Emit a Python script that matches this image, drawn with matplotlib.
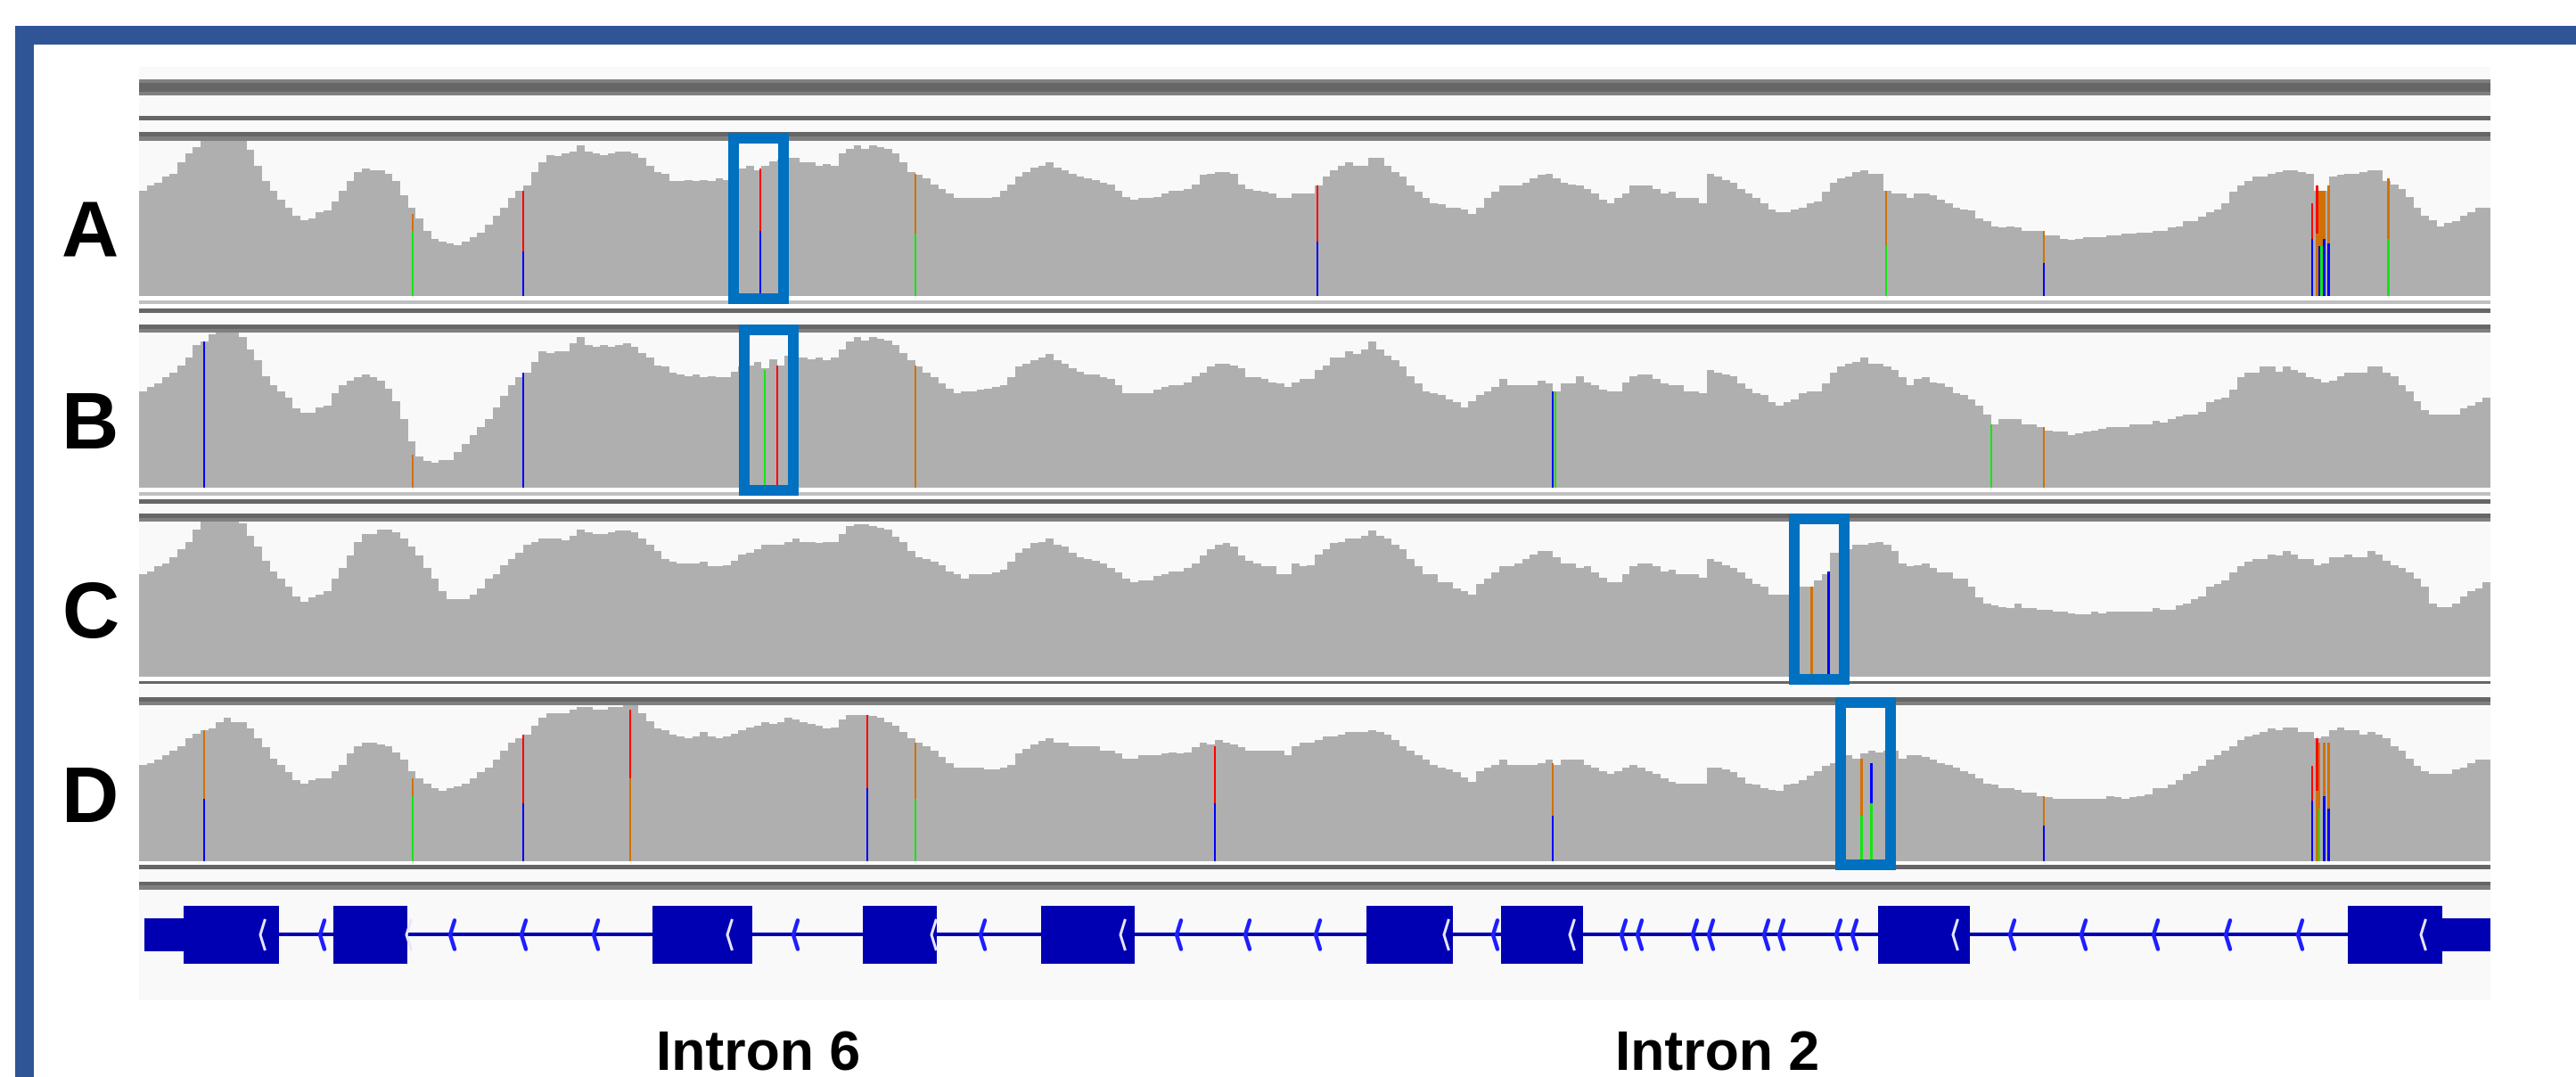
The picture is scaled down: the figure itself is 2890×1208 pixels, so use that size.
import numpy as np
import matplotlib
matplotlib.use("Agg")
import matplotlib.pyplot as plt
from matplotlib.patches import Rectangle
from matplotlib.transforms import blended_transform_factory

W, H, DPI = 2890, 1208, 100
LOCUS_KB = 26.38   # width of the window shown, kb

# coverage per sample, % of the track data range, left to right
cov_a = [68, 71, 73, 77, 79, 86, 92, 96, 100, 100,
         100, 100, 100, 100, 94, 84, 74, 68, 62, 57,
         52, 49, 50, 54, 55, 61, 68, 74, 80, 82,
         81, 81, 79, 74, 65, 57, 50, 42, 37, 35,
         34, 33, 35, 38, 41, 46, 52, 57, 63, 68,
         71, 80, 86, 91, 90, 92, 93, 97, 93, 92,
         91, 92, 93, 93, 92, 89, 84, 80, 79, 74,
         74, 75, 74, 75, 74, 76, 75, 76, 82, 84,
         81, 84, 87, 88, 89, 89, 86, 86, 84, 85,
         84, 92, 95, 97, 95, 97, 96, 95, 92, 86,
         80, 78, 76, 72, 69, 66, 63, 63, 63, 63,
         63, 64, 68, 72, 77, 80, 83, 84, 86, 83,
         81, 79, 77, 76, 75, 73, 72, 68, 64, 62,
         63, 63, 64, 66, 68, 68, 69, 72, 78, 79,
         80, 80, 79, 72, 69, 68, 67, 66, 63,
         63, 66, 66, 66, 71, 77, 81, 84, 86, 84,
         84, 89, 89, 84, 80, 77, 71, 67, 63, 60,
         59, 57, 57, 56, 53, 57, 63, 67, 71, 71,
         71, 73, 76, 78, 79, 76, 73, 72, 71, 69,
         66, 62, 60, 63, 66, 71, 71, 71, 69, 66,
         67, 63, 63, 63, 60, 79, 77, 75, 73, 69,
         66, 63, 60, 56, 54, 54, 56, 57, 60, 61,
         67, 73, 76, 77, 80, 81, 79, 79, 68, 66,
         66, 63, 66, 66, 65, 62, 60, 57, 56, 55,
         50, 48, 45, 44, 45, 44, 42, 42, 42, 39,
         39, 37, 36, 37, 38, 38, 38, 39, 39, 40,
         40, 41, 41, 42, 42, 44, 45, 48, 48, 51,
         54, 56, 60, 67, 71, 74, 77, 77, 79, 80,
         81, 81, 80, 79, 68, 68, 77, 78, 79, 79,
         80, 81, 81, 74, 72, 69, 64, 57, 52, 49,
         45, 47, 48, 52, 54, 57, 57]

cov_b = [62, 65, 67, 71, 74, 79, 84, 92, 94, 99,
         100, 100, 100, 97, 89, 82, 72, 66, 62, 58,
         51, 48, 48, 52, 53, 61, 66, 69, 71, 73,
         71, 69, 64, 56, 44, 30, 20, 17, 16, 18,
         18, 23, 28, 34, 39, 44, 52, 59, 66, 71,
         74, 81, 88, 87, 88, 88, 93, 97, 92, 91,
         92, 91, 92, 93, 91, 87, 84, 79, 78, 74,
         73, 72, 73, 71, 72, 71, 71, 75, 78, 79,
         81, 77, 83, 79, 85, 84, 84, 83, 84, 82,
         84, 89, 94, 97, 95, 97, 96, 95, 92, 87,
         82, 78, 74, 71, 67, 64, 61, 62, 62, 63,
         64, 65, 66, 71, 78, 80, 82, 84, 86, 82,
         80, 77, 75, 73, 73, 71, 70, 66, 61, 61,
         61, 61, 63, 65, 66, 66, 68, 72, 74, 78,
         80, 80, 79, 77, 71, 71, 70, 68, 67,
         65, 68, 70, 70, 76, 79, 84, 84, 88, 86,
         89, 94, 89, 85, 82, 78, 72, 67, 62, 61,
         60, 57, 55, 52, 56, 60, 62, 65, 70, 66,
         66, 66, 66, 69, 67, 62, 67, 67, 72, 68,
         66, 63, 62, 62, 68, 72, 73, 73, 70, 67,
         66, 66, 62, 62, 61, 76, 74, 73, 72, 67,
         64, 61, 60, 55, 53, 55, 57, 61, 62, 62,
         67, 74, 78, 80, 81, 84, 80, 80, 78, 76,
         71, 66, 70, 71, 68, 67, 65, 61, 60, 57,
         53, 47, 41, 44, 44, 44, 41, 41, 39, 37,
         36, 36, 34, 35, 36, 37, 38, 39, 39, 39,
         41, 41, 41, 43, 42, 44, 46, 47, 47, 49,
         55, 57, 58, 63, 71, 74, 74, 78, 78, 75,
         78, 76, 74, 71, 70, 68, 69, 72, 74, 74,
         74, 78, 78, 74, 72, 66, 62, 56, 50, 47,
         47, 47, 47, 51, 53, 55, 58]

cov_c = [66, 68, 71, 73, 77, 82, 87, 95, 100, 100,
         100, 100, 100, 99, 91, 84, 75, 68, 63, 58,
         52, 48, 51, 53, 55, 63, 70, 78, 87, 92,
         92, 95, 95, 93, 89, 84, 78, 70, 63, 55,
         50, 50, 50, 53, 57, 63, 66, 72, 76, 80,
         85, 87, 89, 89, 89, 88, 91, 95, 93, 92,
         92, 93, 94, 94, 93, 89, 85, 81, 76, 74,
         73, 73, 73, 74, 71, 71, 72, 75, 79, 80,
         82, 85, 85, 85, 87, 89, 87, 87, 86, 87,
         87, 92, 97, 98, 98, 97, 96, 95, 90, 87,
         81, 77, 76, 74, 72, 68, 66, 63, 66, 66,
         66, 67, 69, 74, 80, 83, 86, 87, 89, 85,
         84, 80, 77, 76, 75, 73, 70, 67, 63, 61,
         62, 62, 65, 66, 68, 68, 70, 73, 78, 82,
         85, 86, 84, 78, 75, 73, 71, 71, 66,
         66, 73, 71, 72, 79, 82, 86, 87, 89, 89,
         91, 94, 91, 89, 85, 82, 76, 71, 66, 66,
         61, 61, 57, 55, 53, 60, 63, 67, 71, 71,
         73, 76, 79, 81, 81, 77, 73, 73, 70, 71,
         67, 64, 61, 61, 66, 71, 73, 73, 71, 68,
         69, 66, 66, 66, 64, 76, 74, 72, 70, 67,
         63, 60, 58, 53, 53, 53, 58, 58, 58, 62,
         66, 80, 80, 82, 85, 85, 86, 87, 85, 81,
         73, 71, 72, 73, 70, 67, 67, 63, 63, 58,
         51, 47, 46, 45, 44, 47, 44, 44, 43, 43,
         42, 42, 41, 40, 40, 42, 41, 42, 42, 42,
         42, 42, 42, 44, 43, 43, 46, 47, 50, 52,
         58, 60, 62, 67, 71, 74, 76, 76, 79, 78,
         81, 79, 76, 76, 72, 73, 77, 77, 79, 77,
         77, 81, 79, 75, 72, 70, 67, 63, 58, 47,
         45, 45, 47, 52, 55, 57, 61]

cov_d = [62, 63, 65, 68, 71, 74, 79, 82, 84, 85,
         89, 92, 89, 89, 85, 79, 73, 66, 62, 57,
         52, 50, 52, 53, 53, 58, 62, 69, 74, 76,
         76, 75, 74, 70, 65, 58, 53, 50, 47, 45,
         47, 48, 50, 53, 57, 60, 65, 71, 76, 79,
         81, 87, 92, 95, 95, 95, 97, 99, 99, 97,
         97, 99, 99, 100, 100, 95, 90, 85, 84, 81,
         80, 79, 80, 83, 80, 79, 80, 82, 84, 86,
         87, 89, 88, 89, 92, 91, 89, 88, 87, 85,
         86, 91, 94, 94, 94, 93, 92, 89, 87, 83,
         79, 76, 74, 71, 67, 63, 60, 60, 60, 60,
         59, 59, 60, 62, 69, 72, 75, 77, 79, 76,
         76, 74, 74, 74, 74, 71, 71, 69, 66, 66,
         68, 68, 68, 69, 70, 69, 70, 73, 76, 75,
         78, 76, 75, 73, 71, 71, 71, 71, 71,
         68, 74, 76, 76, 78, 80, 80, 81, 83, 83,
         83, 84, 83, 81, 78, 74, 71, 68, 65, 62,
         60, 59, 57, 54, 51, 58, 60, 62, 65, 62,
         62, 62, 62, 63, 65, 62, 65, 65, 65, 62,
         60, 58, 56, 58, 60, 62, 60, 58, 56, 53,
         51, 50, 50, 50, 50, 60, 60, 59, 57, 54,
         50, 49, 47, 46, 45, 49, 50, 52, 55, 58,
         61, 63, 65, 68, 66, 69, 71, 70, 71, 71,
         66, 68, 68, 67, 65, 63, 62, 60, 58, 56,
         53, 50, 49, 47, 47, 46, 44, 44, 42, 41,
         40, 40, 40, 40, 40, 40, 40, 42, 41, 40,
         41, 42, 43, 47, 47, 49, 52, 56, 58, 61,
         65, 68, 71, 74, 78, 80, 81, 83, 85, 84,
         86, 86, 83, 83, 79, 80, 84, 86, 84, 84,
         81, 83, 81, 79, 74, 71, 66, 61, 58, 56,
         56, 56, 59, 60, 63, 65, 65]

# mismatches: (position kb, lower base, lower depth, upper base, total depth)
var_a = [(3.07, "A", 42, "G", 53), (4.31, "C", 29, "T", 68),
         (6.97, "C", 42, "T", 82), (8.71, "A", 40, "G", 79),
         (13.22, "C", 35, "T", 71), (19.60, "A", 32, "G", 68),
         (21.37, "C", 21, "G", 42), (24.38, "C", 37, "T", 60),
         (24.435, "G", 40, "T", 71), (24.46, "C", 32, "G", 68),
         (24.485, "A", 32, "G", 68), (24.515, "C", 37, "G", 68),
         (24.565, "C", 34, "G", 71), (25.235, "A", 37, "G", 76)]
var_b = [(0.73, "C", 94, None, 94), (3.07, "G", 21, None, 21),
         (4.31, "C", 74, None, 74), (7.02, "A", 76, None, 76),
         (7.16, "T", 79, None, 79), (8.71, "G", 79, None, 79),
         (15.86, "C", 62, None, 62), (15.89, "A", 62, None, 62),
         (20.78, "A", 41, None, 41), (21.37, "G", 39, None, 39)]
var_c = [(18.765, "G", 58, None, 58), (18.955, "C", 68, None, 68)]
var_d = [(0.73, "C", 40, "G", 84), (3.07, "A", 42, "G", 53),
         (4.31, "C", 37, "T", 81), (5.51, "G", 53, "T", 97),
         (8.17, "C", 47, "T", 94), (8.71, "A", 40, "G", 76),
         (12.07, "C", 37, "T", 74), (15.86, "C", 29, "G", 63),
         (19.325, "A", 29, "G", 66), (19.435, "A", 37, "C", 63),
         (21.37, "C", 23, "G", 42), (24.38, "C", 39, "T", 61),
         (24.435, "G", 45, "T", 79), (24.46, "A", 34, "G", 76),
         (24.515, "C", 42, "G", 76), (24.565, "C", 34, "G", 76)]

# highlighted windows, kb
box_a = (6.67, 7.23)
box_b = (6.79, 7.34)
box_c = (18.57, 19.13)
box_d = (19.09, 19.65)

# gene model, kb
utrs = [(0.06, 0.50), (25.84, 26.38)]
exons = [(0.50, 1.57), (2.18, 3.01), (5.76, 6.88), (8.12, 8.95), (10.12, 11.17),
         (13.77, 14.74), (15.28, 16.20), (19.51, 20.54), (24.78, 25.84)]
intron_arrows = [2.03, 3.49, 4.29, 5.10, 7.34, 9.44, 11.64, 12.41, 13.20, 15.19,
                 16.63, 16.81, 17.43, 17.61, 18.23, 18.40, 19.04, 19.22,
                 20.99, 21.79, 22.60, 23.41, 24.22]
exon_arrows = [1.36, 3.00, 6.60, 8.89, 11.01, 14.64, 16.05, 20.35, 25.60]
intron_labels = [("Intron 6", 6.95), ("Intron 2", 17.71)]

BASE = {"A": "#12E612", "C": "#0000FF", "G": "#D17105", "T": "#FF0000"}
COV_GREY = "#AFAFAF"
PANEL = "#F9F9F9"
DARK, MID, LIGHT = "#666666", "#808080", "#C0C0C0"
FRAME = "#2F5597"
BOX = "#0070C0"
GENE = "#0000B2"

# pixel layout of the screenshot
PX0, PX1 = 156, 2794
tracks = [("A", cov_a, var_a, box_a, 158, 332),
          ("B", cov_b, var_b, box_b, 373, 547),
          ("C", cov_c, var_c, box_c, 585, 759),
          ("D", cov_d, var_d, box_d, 791, 966)]
bands = [(89, 93, MID), (93, 103, DARK), (103, 107, MID),
         (130, 135, DARK), (148, 153, DARK), (153, 158, MID),
         (332, 337, "white"), (337, 341, LIGHT), (341, 346, "white"),
         (346, 351, DARK), (364, 369, DARK), (369, 373, MID),
         (547, 552, "white"), (552, 556, LIGHT), (556, 560, "white"),
         (560, 565, DARK), (576, 581, DARK), (581, 585, MID),
         (759, 764, "white"), (764, 767, DARK), (782, 787, DARK), (787, 791, MID),
         (966, 970, "white"), (970, 975, DARK), (989, 993, DARK), (993, 998, MID)]


def fig_rect(x0, y0, x1, y1):
    return [x0 / W, 1 - y1 / H, (x1 - x0) / W, (y1 - y0) / H]


def bare(ax):
    ax.set_xticks([])
    ax.set_yticks([])
    for s in ax.spines.values():
        s.set_visible(False)
    ax.patch.set_alpha(0)


fig = plt.figure(figsize=(W / DPI, H / DPI), dpi=DPI)
fig.patch.set_facecolor("white")

# background: frame, panel, separator bars
bg = fig.add_axes([0, 0, 1, 1])
bg.set_xlim(0, W)
bg.set_ylim(H, 0)
bg.axis("off")
bg.add_patch(Rectangle((17, 29), W - 17, 21, color=FRAME, lw=0))
bg.add_patch(Rectangle((17, 29), 21, H - 29, color=FRAME, lw=0))
bg.add_patch(Rectangle((PX0, 75), PX1 - PX0, 1122 - 75, color=PANEL, lw=0))
for y0, y1, c in bands:
    bg.add_patch(Rectangle((PX0, y0), PX1 - PX0, y1 - y0, color=c, lw=0))

lw_box = 12 * 72 / DPI
for name, cov, var, box, top, bot in tracks:
    ax = fig.add_axes(fig_rect(PX0, top, PX1, bot))
    bare(ax)
    edges = np.linspace(0, LOCUS_KB, len(cov) + 1)
    ax.stairs(cov, edges, fill=True, color=COV_GREY, lw=0)
    for pos, lo, lo_d, hi, tot in var:
        ax.bar(pos, lo_d, width=0.028, color=BASE[lo], lw=0)
        if hi:
            ax.bar(pos, tot - lo_d, bottom=lo_d, width=0.028, color=BASE[hi], lw=0)
    ax.set_xlim(0, LOCUS_KB)
    ax.set_ylim(0, 100)
    tr = blended_transform_factory(ax.transData, ax.transAxes)
    ax.add_patch(Rectangle((box[0], -0.02), box[1] - box[0], 1.035, transform=tr,
                           fill=False, edgecolor=BOX, lw=lw_box, joinstyle="miter",
                           clip_on=False, zorder=5))
    fig.text(101 / W, 1 - (bot - 44) / H, name, ha="center", va="baseline",
             fontsize=64, fontweight="bold",
             family=["Liberation Sans Narrow", "Liberation Sans"])

# gene track
gx = fig.add_axes(fig_rect(PX0, 998, PX1, 1122))
bare(gx)
gx.set_xlim(0, LOCUS_KB)
gx.set_ylim(0, 1)
GY = 0.593
gx.plot([utrs[0][0], utrs[1][1]], [GY, GY], color=GENE, lw=2.9,
        solid_capstyle="butt")
for s, e in utrs:
    gx.add_patch(Rectangle((s, GY - 0.15), e - s, 0.30, color=GENE, lw=0))
for s, e in exons:
    gx.add_patch(Rectangle((s, GY - 0.262), e - s, 0.524, color=GENE, lw=0))
for x in intron_arrows:
    gx.plot([x + 0.05, x, x + 0.05], [GY + 0.13, GY, GY - 0.13],
            color="#1E1EFF", lw=3.2, solid_joinstyle="round",
            solid_capstyle="round")
for x in exon_arrows:
    gx.plot([x + 0.05, x, x + 0.05], [GY + 0.13, GY, GY - 0.13],
            color="#E6E6FF", lw=2.2, solid_joinstyle="round")

tr = blended_transform_factory(gx.transData, gx.transAxes)
for txt, x in intron_labels:
    gx.text(x, -0.63, txt, transform=tr, ha="center", va="baseline",
            fontsize=45, fontweight="bold", family=["Liberation Sans"],
            clip_on=False)

fig.savefig("out.png", dpi=DPI, facecolor="white")
